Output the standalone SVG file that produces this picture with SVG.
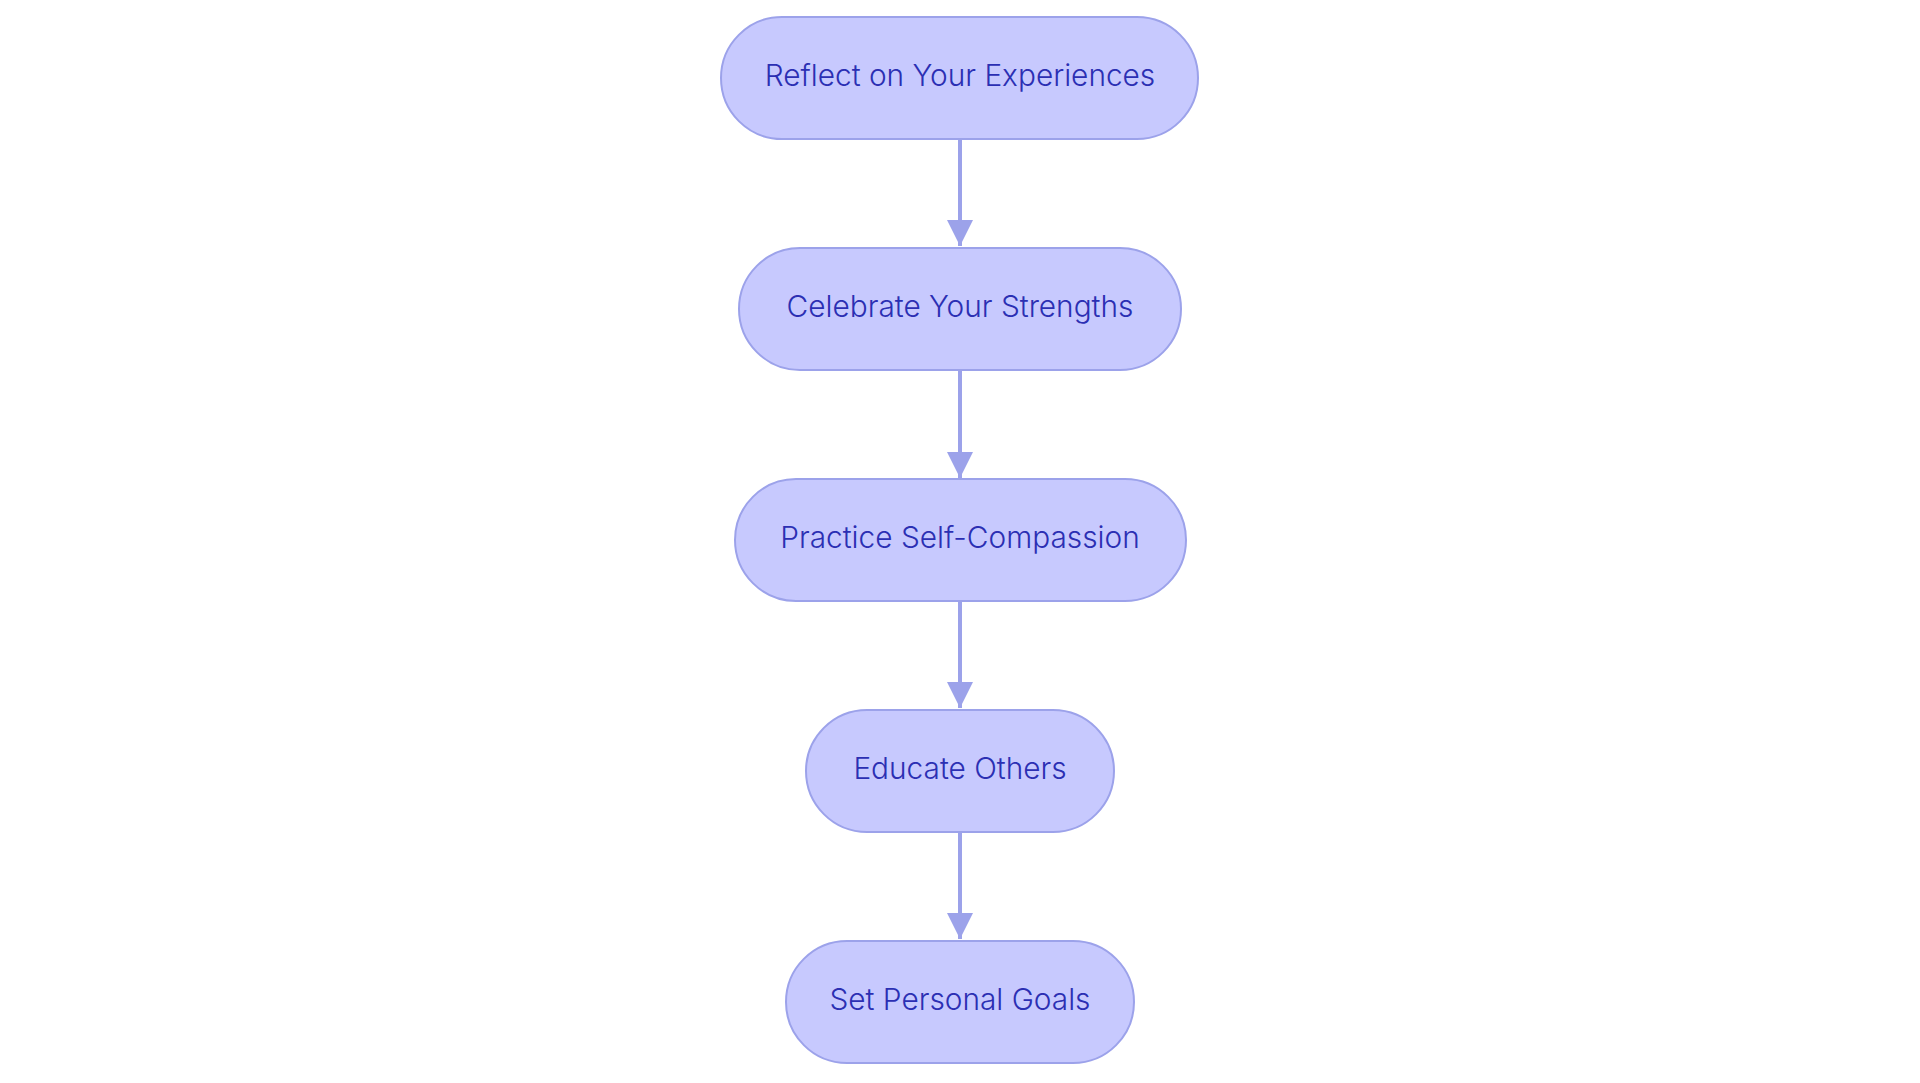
<svg xmlns="http://www.w3.org/2000/svg" width="1920" height="1083" viewBox="0 0 1920 1083">
<defs>
<style>
.node rect{fill:#c7c9fe;stroke:#9ca2ea;stroke-width:2}
.node text{font-family:Inter,"Open Sans","Liberation Sans",sans-serif;font-size:29.8px;font-weight:300;fill:#2b2fb3;text-anchor:middle}
.edge{stroke:#9ca2ea;stroke-width:4;fill:none}
</style>
<marker id="arr" markerUnits="userSpaceOnUse" markerWidth="28" markerHeight="28" refX="26" refY="13" orient="auto">
<path d="M0,0 L26,13 L0,26 Z" fill="#9ca2ea"/>
</marker>
</defs>
<rect width="1920" height="1083" fill="#ffffff"/>
<g id="connectors">
<line class="edge" x1="960" y1="139" x2="960" y2="246" marker-end="url(#arr)"/>
<line class="edge" x1="960" y1="370" x2="960" y2="478" marker-end="url(#arr)"/>
<line class="edge" x1="960" y1="601" x2="960" y2="708" marker-end="url(#arr)"/>
<line class="edge" x1="960" y1="832" x2="960" y2="939" marker-end="url(#arr)"/>
</g>
<g id="node1" class="node">
<rect x="721" y="17" width="477" height="122" rx="61"/>
<text x="960" y="86">Reflect on Your Experiences</text>
</g>
<g id="node2" class="node">
<rect x="739" y="248" width="442" height="122" rx="61"/>
<text x="960" y="317">Celebrate Your Strengths</text>
</g>
<g id="node3" class="node">
<rect x="735" y="479" width="451" height="122" rx="61"/>
<text x="960" y="548">Practice Self-Compassion</text>
</g>
<g id="node4" class="node">
<rect x="806" y="710" width="308" height="122" rx="61"/>
<text x="960" y="779">Educate Others</text>
</g>
<g id="node5" class="node">
<rect x="786" y="941" width="348" height="122" rx="61"/>
<text x="960" y="1010">Set Personal Goals</text>
</g>
</svg>
